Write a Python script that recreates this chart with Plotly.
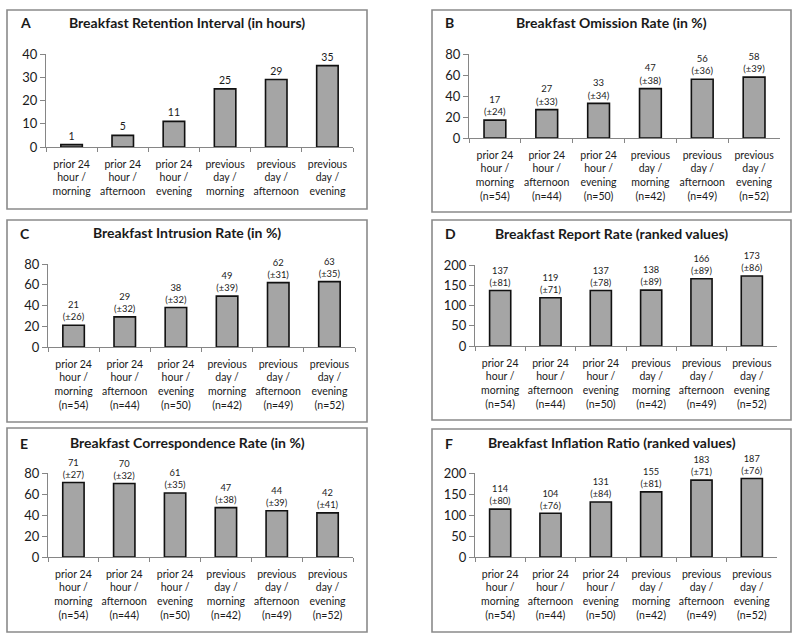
import plotly.graph_objects as go

W, H = 800, 642

categories = ["prior 24<br>hour /<br>morning", "prior 24<br>hour /<br>afternoon", "prior 24<br>hour /<br>evening",
              "previous<br>day /<br>morning", "previous<br>day /<br>afternoon", "previous<br>day /<br>evening"]
n_values = [54, 44, 50, 42, 49, 52]

retention = [1, 5, 11, 25, 29, 35]
omission = [17, 27, 33, 47, 56, 58]
omission_sd = [24, 33, 34, 38, 36, 39]
intrusion = [21, 29, 38, 49, 62, 63]
intrusion_sd = [26, 32, 32, 39, 31, 35]
report = [137, 119, 137, 138, 166, 173]
report_sd = [81, 71, 78, 89, 89, 86]
correspondence = [71, 70, 61, 47, 44, 42]
correspondence_sd = [27, 32, 35, 38, 39, 41]
inflation = [114, 104, 131, 155, 183, 187]
inflation_sd = [80, 76, 84, 81, 71, 76]

titles = ["Breakfast Retention Interval (in hours)", "Breakfast Omission Rate (in %)",
          "Breakfast Intrusion Rate (in %)", "Breakfast Report Rate (ranked values)",
          "Breakfast Correspondence Rate (in %)", "Breakfast Inflation Ratio (ranked values)"]
letters = ["A", "B", "C", "D", "E", "F"]
y_max = [40, 80, 80, 200, 80, 200]
y_dtick = [10, 20, 20, 50, 20, 50]

FONT = "Lato, Carlito, 'Liberation Sans', sans-serif"
AXC = "#868686"
TXT = "#1a1a1a"

# layout geometry (pixels): plot area [x0, x1] x [y_top, y_zero], box [bx0, bx1, by0, by1], title y
panels = [
    dict(px=(46, 353), py=(54, 147), box=(7, 367, 10, 209), ty=22),
    dict(px=(469, 780), py=(54, 138), box=(432, 791, 10, 212), ty=22),
    dict(px=(48, 355), py=(264, 347), box=(7, 367, 220, 422), ty=232),
    dict(px=(475, 777), py=(265, 346), box=(432, 791, 220, 420), ty=233),
    dict(px=(48, 353), py=(473, 557), box=(7, 367, 428, 632), ty=442),
    dict(px=(475, 777), py=(473, 557), box=(432, 791, 429, 632), ty=442),
]

values = [retention, omission, intrusion, report, correspondence, inflation]
sds = [None, omission_sd, intrusion_sd, report_sd, correspondence_sd, inflation_sd]

fig = go.Figure()
shapes = []
annotations = []

for i in range(6):
    p = panels[i]
    xa = "x" if i == 0 else f"x{i+1}"
    ya = "y" if i == 0 else f"y{i+1}"
    if sds[i] is None:
        cats = categories
        texts = [str(v) for v in values[i]]
    else:
        cats = [f"{c}<br>(n={n})" for c, n in zip(categories, n_values)]
        texts = [f"{v}<br>(±{s})" for v, s in zip(values[i], sds[i])]
    fig.add_trace(go.Bar(
        x=cats, y=values[i], xaxis=xa, yaxis=ya,
        marker=dict(color="#a5a5a5", line=dict(color="#111111", width=1.6)),
        width=0.42, text=texts, textposition="outside", cliponaxis=False,
        textfont=dict(family=FONT, size=10.5, color=TXT), showlegend=False,
        hoverinfo="skip",
    ))
    xk = "xaxis" if i == 0 else f"xaxis{i+1}"
    yk = "yaxis" if i == 0 else f"yaxis{i+1}"
    fig.layout[xk] = dict(
        domain=[p["px"][0] / W, p["px"][1] / W], anchor=ya, type="category",
        showline=True, linecolor=AXC, linewidth=1, ticks="outside", tickson="boundaries",
        ticklen=4, tickcolor=AXC, showgrid=False, zeroline=False, tickangle=0,
        automargin=False, ticklabelstandoff=7,
        tickfont=dict(family=FONT, size=10.5, color=TXT), fixedrange=True,
    )
    fig.layout[yk] = dict(
        domain=[1 - p["py"][1] / H, 1 - p["py"][0] / H], anchor=xa,
        range=[0, y_max[i]], dtick=y_dtick[i], tick0=0, automargin=False,
        showline=True, linecolor=AXC, linewidth=1, ticks="outside", ticklen=5,
        tickcolor=AXC, showgrid=False, zeroline=False,
        tickfont=dict(family=FONT, size=13, color=TXT), fixedrange=True,
    )
    bx0, bx1, by0, by1 = p["box"]
    shapes.append(dict(type="rect", xref="paper", yref="paper",
                       x0=bx0 / W, x1=bx1 / W, y0=1 - by1 / H, y1=1 - by0 / H,
                       line=dict(color="#8a8a8a", width=1.6), fillcolor="rgba(0,0,0,0)"))
    annotations.append(dict(text=f"<b>{titles[i]}</b>", xref="paper", yref="paper",
                            x=(bx0 + bx1) / 2 / W, y=1 - p["ty"] / H, showarrow=False,
                            xanchor="center", yanchor="middle",
                            font=dict(family=FONT, size=14, color=TXT)))
    annotations.append(dict(text=f"<b>{letters[i]}</b>", xref="paper", yref="paper",
                            x=(bx0 + 11) / W, y=1 - (p["ty"] + 1) / H, showarrow=False,
                            xanchor="left", yanchor="middle",
                            font=dict(family=FONT, size=14, color=TXT)))

fig.update_layout(
    width=W, height=H, margin=dict(l=0, r=0, t=0, b=0),
    paper_bgcolor="white", plot_bgcolor="white",
    shapes=shapes, annotations=annotations, bargap=0.58,
)

fig.write_html("out.html", config={"displayModeBar": False},
               post_script="document.body.style.margin='0';")
